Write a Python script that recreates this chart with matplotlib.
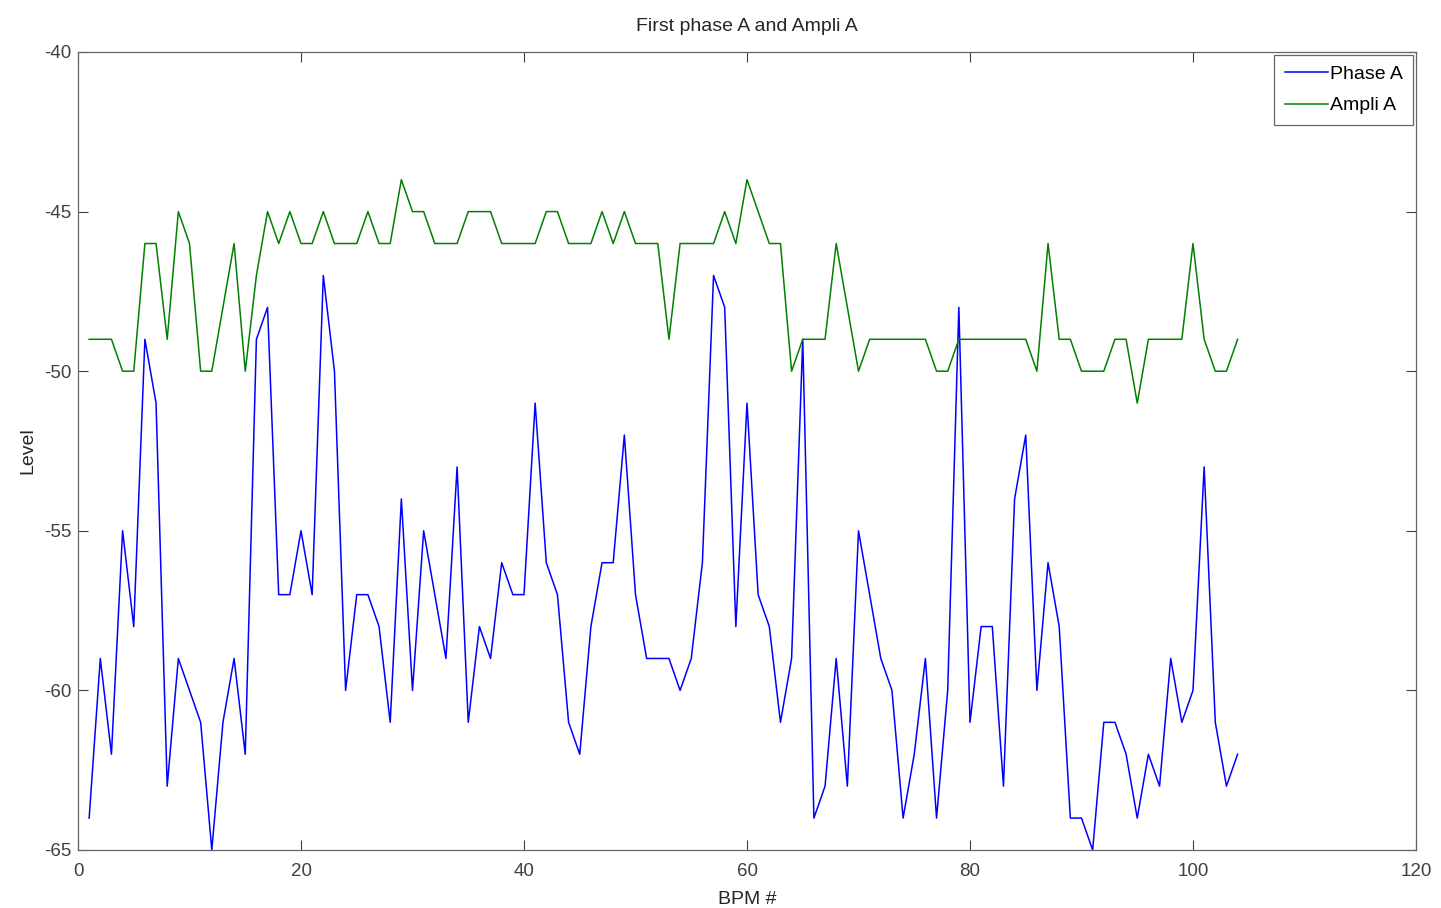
import matplotlib.pyplot as plt
import numpy as np

plt.rcParams['font.family'] = ['Liberation Sans', 'DejaVu Sans']
plt.rcParams['axes.unicode_minus'] = False

# BPM index
bpm = np.arange(1, 105)

phase_a = [-64, -59, -62, -55, -58, -49, -51, -63, -59, -60,
           -61, -65, -61, -59, -62, -49, -48, -57, -57, -55,
           -57, -47, -50, -60, -57, -57, -58, -61, -54, -60,
           -55, -57, -59, -53, -61, -58, -59, -56, -57, -57,
           -51, -56, -57, -61, -62, -58, -56, -56, -52, -57,
           -59, -59, -59, -60, -59, -56, -47, -48, -58, -51,
           -57, -58, -61, -59, -49, -64, -63, -59, -63, -55,
           -57, -59, -60, -64, -62, -59, -64, -60, -48, -61,
           -58, -58, -63, -54, -52, -60, -56, -58, -64, -64,
           -65, -61, -61, -62, -64, -62, -63, -59, -61, -60,
           -53, -61, -63, -62]

ampli_a = [-49, -49, -49, -50, -50, -46, -46, -49, -45, -46,
           -50, -50, -48, -46, -50, -47, -45, -46, -45, -46,
           -46, -45, -46, -46, -46, -45, -46, -46, -44, -45,
           -45, -46, -46, -46, -45, -45, -45, -46, -46, -46,
           -46, -45, -45, -46, -46, -46, -45, -46, -45, -46,
           -46, -46, -49, -46, -46, -46, -46, -45, -46, -44,
           -45, -46, -46, -50, -49, -49, -49, -46, -48, -50,
           -49, -49, -49, -49, -49, -49, -50, -50, -49, -49,
           -49, -49, -49, -49, -49, -50, -46, -49, -49, -50,
           -50, -50, -49, -49, -51, -49, -49, -49, -49, -46,
           -49, -50, -50, -49]

fig = plt.figure(figsize=(14.41, 9.08), dpi=100)
ax = fig.add_axes([78 / 1441, 58 / 908, 1338 / 1441, 798 / 908])

ax.plot(bpm, phase_a, color=(0, 0, 1), lw=1.1, label="Phase A")
ax.plot(bpm, ampli_a, color=(0, 0.5, 0), lw=1.1, label="Ampli A")

ax.set_xlim(0, 120)
ax.set_ylim(-65, -40)
ax.set_xticks(np.arange(0, 121, 20))
ax.set_yticks(np.arange(-65, -39, 5))

ax.tick_params(direction='in', top=True, right=True, length=7, width=0.8,
               labelsize=13.5, colors='0.25')
ax.tick_params(axis='x', pad=9)
ax.tick_params(axis='y', pad=5)
for s in ax.spines.values():
    s.set_color('0.4')
    s.set_linewidth(0.9)

ax.set_title("First phase A and Ampli A", fontsize=14, pad=15, color='0.15')
ax.set_xlabel("BPM #", fontsize=14, labelpad=8, color='0.15')
ax.set_ylabel("Level", fontsize=14, labelpad=5, color='0.15')

leg = ax.legend(loc='upper right', fontsize=14, fancybox=False, framealpha=1,
                edgecolor='0.4', borderaxespad=0.15, handlelength=2.2,
                handletextpad=0.1, borderpad=0.55, labelspacing=0.7)
leg.get_frame().set_linewidth(0.9)

fig.savefig("out.png", dpi=100)
